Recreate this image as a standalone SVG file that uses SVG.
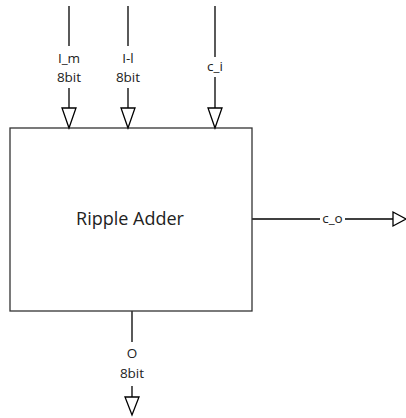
<svg xmlns="http://www.w3.org/2000/svg" width="406" height="418" viewBox="0 0 406 418">
  <style>
    .wire { stroke: #000; stroke-width: 1.3; fill: none; }
    .box { stroke: #333; stroke-width: 1.3; fill: #fff; }
    .arrow { stroke: #000; stroke-width: 1.3; fill: #fff; stroke-linejoin: miter; }
    .lbl { font-family: "Open Sans", "Liberation Sans", sans-serif; font-size: 13.5px; fill: #222; text-anchor: middle; }
    .title { font-family: "Open Sans", "Liberation Sans", sans-serif; font-size: 18px; fill: #222; text-anchor: middle; }
  </style>
  <rect width="406" height="418" fill="#fff"/>

  <g id="connectors">
    <!-- I_m input -->
    <line class="wire" x1="69" y1="6" x2="69" y2="46"/>
    <line class="wire" x1="69" y1="88" x2="69" y2="108"/>
    <!-- I-l input -->
    <line class="wire" x1="128" y1="6" x2="128" y2="46"/>
    <line class="wire" x1="128" y1="88" x2="128" y2="108"/>
    <!-- c_i input -->
    <line class="wire" x1="215" y1="6" x2="215" y2="57"/>
    <line class="wire" x1="215" y1="77" x2="215" y2="108"/>
    <!-- c_o output -->
    <line class="wire" x1="252" y1="219" x2="320" y2="219"/>
    <line class="wire" x1="345" y1="219" x2="393" y2="219"/>
    <!-- O output -->
    <line class="wire" x1="132" y1="311" x2="132" y2="342"/>
    <line class="wire" x1="132" y1="386" x2="132" y2="397"/>
  </g>

  <g id="adder">
    <rect class="box" x="10" y="128" width="242" height="183"/>
    <text class="title" x="130" y="225">Ripple Adder</text>
  </g>

  <g id="port-I_m">
    <polygon class="arrow" points="62,108 76,108 69,128"/>
    <text class="lbl" x="69" y="63">I_m</text>
    <text class="lbl" x="69" y="82">8bit</text>
  </g>

  <g id="port-I-l">
    <polygon class="arrow" points="121,108 135,108 128,128"/>
    <text class="lbl" x="128" y="63">I-l</text>
    <text class="lbl" x="128" y="82">8bit</text>
  </g>

  <g id="port-c_i">
    <polygon class="arrow" points="208,108 222,108 215,128"/>
    <text class="lbl" x="215" y="71">c_i</text>
  </g>

  <g id="port-c_o">
    <polygon class="arrow" points="393,212 393,226 406,219"/>
    <text class="lbl" x="332.5" y="223">c_o</text>
  </g>

  <g id="port-O">
    <polygon class="arrow" points="125,397 139,397 132,415"/>
    <text class="lbl" x="132" y="358">O</text>
    <text class="lbl" x="132" y="378">8bit</text>
  </g>
</svg>
